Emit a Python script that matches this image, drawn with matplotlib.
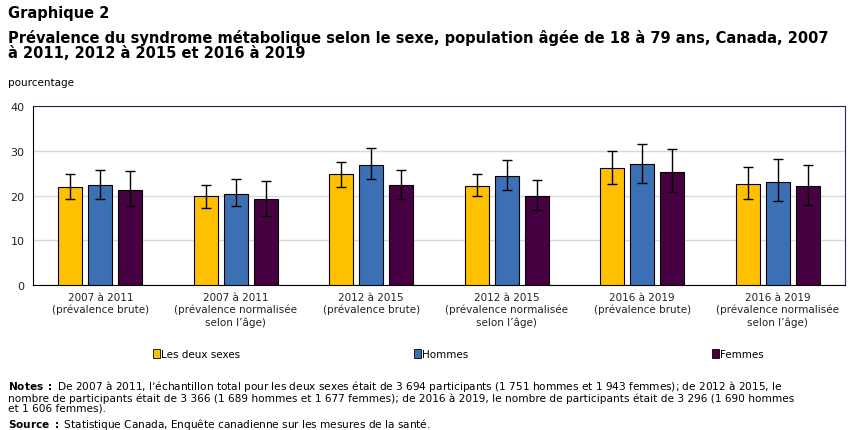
import matplotlib.pyplot as plt
from matplotlib.patches import Patch
import numpy as np

categories = ["2007 à 2011\n(prévalence brute)",
              "2007 à 2011\n(prévalence normalisée\nselon l’âge)",
              "2012 à 2015\n(prévalence brute)",
              "2012 à 2015\n(prévalence normalisée\nselon l’âge)",
              "2016 à 2019\n(prévalence brute)",
              "2016 à 2019\n(prévalence normalisée\nselon l’âge)"]
series_names = ["Les deux sexes", "Hommes", "Femmes"]
colors = ["#FFC000", "#3C70B5", "#470042"]

both = [21.9, 19.8, 24.7, 22.1, 26.1, 22.5]
both_lo = [19.2, 17.2, 22.0, 19.8, 22.5, 19.2]
both_hi = [24.7, 22.4, 27.4, 24.7, 29.9, 26.3]

men = [22.3, 20.4, 26.9, 24.3, 27.0, 23.0]
men_lo = [19.2, 17.6, 23.6, 21.2, 22.8, 18.7]
men_hi = [25.7, 23.6, 30.7, 27.9, 31.5, 28.1]

women = [21.2, 19.2, 22.3, 19.8, 25.2, 22.1]
women_lo = [17.6, 15.4, 19.2, 16.7, 20.7, 17.8]
women_hi = [25.4, 23.2, 25.8, 23.4, 30.4, 26.8]

values = [both, men, women]
lows = [both_lo, men_lo, women_lo]
highs = [both_hi, men_hi, women_hi]

plt.rcParams['font.family'] = ['DejaVu Sans']

fig = plt.figure(figsize=(8.6, 4.31), dpi=100)
ax = fig.add_axes([0.038, 0.336, 0.945, 0.416])

x = np.arange(len(categories))
width = 0.177
step = 0.222
for i in range(3):
    v = np.array(values[i])
    err = np.array([v - np.array(lows[i]), np.array(highs[i]) - v])
    ax.bar(x + (i - 1) * step, v, width, color=colors[i], edgecolor="black",
           linewidth=0.8, yerr=err, capsize=3.5,
           error_kw=dict(elinewidth=1, capthick=1, ecolor="black"), zorder=3)

ax.set_xlim(-0.5, 5.5)
ax.set_ylim(0, 40)
ax.set_yticks([0, 10, 20, 30, 40])
ax.yaxis.grid(True, color="#d9d9d9", linewidth=1, zorder=0)
ax.set_xticks(x)
ax.set_xticklabels(categories, fontsize=7.5, color="#222222")
ax.tick_params(axis="y", labelsize=8, length=0, pad=6, colors="#222222")
ax.tick_params(axis="x", length=0, pad=5)
for s in ["top", "right"]:
    ax.spines[s].set_color("#1f2d4a")
ax.spines["left"].set_color("black")
ax.spines["bottom"].set_color("black")

fig.text(0.009, 0.985, "Graphique 2", fontsize=10.5, fontweight="bold", va="top")
fig.text(0.009, 0.93, "Prévalence du syndrome métabolique selon le sexe, population âgée de 18 à 79 ans, Canada, 2007\nà 2011, 2012 à 2015 et 2016 à 2019",
         fontsize=10.5, fontweight="bold", linespacing=1.0, va="top")
fig.text(0.009, 0.8, "pourcentage", fontsize=7.5)

handles = [Patch(facecolor=c, edgecolor="black", linewidth=0.6) for c in colors]
leg_x = [0.19, 0.493, 0.84]
for h, name, lx in zip(handles, series_names, leg_x):
    fig.legend([h], [name], loc="center left", bbox_to_anchor=(lx - 0.012, 0.176),
               frameon=False, fontsize=7.5, handlelength=0.7, handleheight=0.9,
               handletextpad=0.1, borderpad=0, borderaxespad=0)

fig.text(0.009, 0.12, r"$\bf{Notes\ :}$ De 2007 à 2011, l’échantillon total pour les deux sexes était de 3 694 participants (1 751 hommes et 1 943 femmes); de 2012 à 2015, le"
         "\nnombre de participants était de 3 366 (1 689 hommes et 1 677 femmes); de 2016 à 2019, le nombre de participants était de 3 296 (1 690 hommes"
         "\net 1 606 femmes).", fontsize=7.6, linespacing=0.95, va="top")
fig.text(0.009, 0.032, r"$\bf{Source\ :}$ Statistique Canada, Enquête canadienne sur les mesures de la santé.",
         fontsize=7.6, va="top")

fig.savefig("out.png", dpi=100)
